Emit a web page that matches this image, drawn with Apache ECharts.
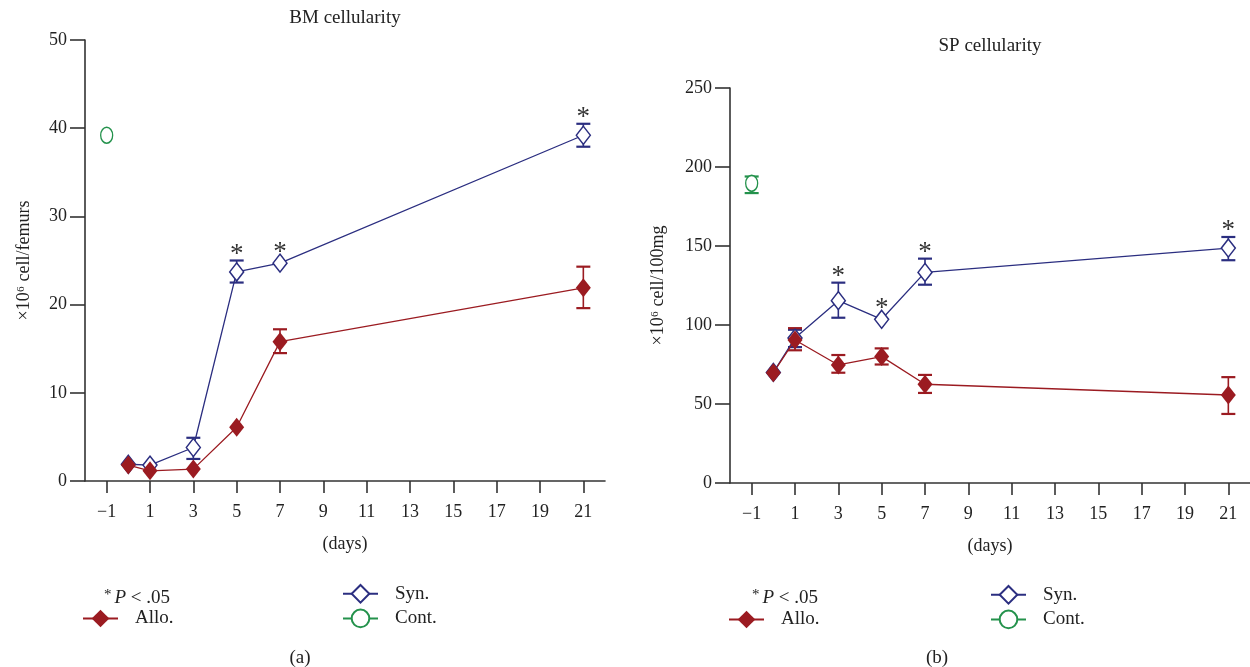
<!DOCTYPE html>
<html>
<head>
<meta charset="utf-8">
<script src="https://cdn.jsdelivr.net/npm/echarts@6/dist/echarts.min.js"></script>
<style>
  html, body { margin: 0; padding: 0; background: #fff; }
  #chart { width: 1250px; height: 667px; }
</style>
</head>
<body>
<div id="chart"></div>
<script>
  // days after transplant
  var days = [0, 1, 3, 5, 7, 21];
  var xTicks = [-1, 1, 3, 5, 7, 9, 11, 13, 15, 17, 19, 21];
  var contDay = -1;

  // BM cellularity (x10^6 cell/femurs)
  var bmAllo = [1.8, 1.15, 1.35, 6.1, 15.8, 21.9];
  var bmAlloLo = [null, null, null, null, 14.5, 19.6];
  var bmAlloHi = [null, null, null, null, 17.2, 24.3];
  var bmSyn = [1.9, 1.8, 3.8, 23.7, 24.7, 39.2];
  var bmSynLo = [null, null, 2.5, 22.5, null, 37.9];
  var bmSynHi = [null, null, 4.9, 25.0, null, 40.5];
  var bmCont = 39.2;
  var bmStars = [5, 7, 21];

  // SP cellularity (x10^6 cell/100mg)
  var spAllo = [69.8, 90.5, 74.7, 80.0, 62.5, 55.7];
  var spAlloLo = [null, 84, 69.8, 75.0, 57.0, 43.7];
  var spAlloHi = [null, 98, 81.0, 85.2, 68.4, 67.0];
  var spSyn = [70, 91.7, 115.4, 103.6, 133.3, 148.7];
  var spSynLo = [null, 86, 104.6, null, 125.5, 141.0];
  var spSynHi = [null, 97, 126.8, null, 142.0, 155.7];
  var spCont = 189.7;
  var spContLo = 183.5;
  var spContHi = 194.0;
  var spStars = [3, 5, 7, 21];

  var RED = '#9b1b21';
  var BLUE = '#2b2e80';
  var GREEN = '#24924c';
  var AXIS = '#333';
  var FONT = '"Liberation Serif", "DejaVu Serif", serif';
  var ELLIPSE = 'path://M0,8 A6,8 0 1,1 12,8 A6,8 0 1,1 0,8 Z';

  function pts(ys) {
    return days.map(function (d, i) { return [d, ys[i]]; });
  }
  function errs(lo, hi) {
    var out = [];
    days.forEach(function (d, i) {
      if (lo[i] != null) out.push([d, lo[i], hi[i]]);
    });
    return out;
  }
  function stars(list, ys, hi) {
    return list.map(function (d) {
      var i = days.indexOf(d);
      return [d, ys[i], hi[i] == null ? ys[i] : hi[i]];
    });
  }

  function errorBar(color) {
    return function (params, api) {
      var x = api.value(0);
      var lo = api.coord([x, api.value(1)]);
      var hi = api.coord([x, api.value(2)]);
      var w = 7;
      return {
        type: 'group',
        children: [
          { type: 'line', shape: { x1: lo[0], y1: lo[1], x2: hi[0], y2: hi[1] }, style: { stroke: color, lineWidth: 1.6 } },
          { type: 'line', shape: { x1: lo[0] - w, y1: lo[1], x2: lo[0] + w, y2: lo[1] }, style: { stroke: color, lineWidth: 2.2 } },
          { type: 'line', shape: { x1: hi[0] - w, y1: hi[1], x2: hi[0] + w, y2: hi[1] }, style: { stroke: color, lineWidth: 2.2 } }
        ]
      };
    };
  }

  function starItem(params, api) {
    var x = api.value(0);
    var p = api.coord([x, api.value(1)]);
    var top = api.coord([x, api.value(2)]);
    var y = Math.min(top[1] - 13, p[1] - 17);
    return {
      type: 'text',
      x: p[0],
      y: y + 7,
      style: { text: '*', fontSize: 27, fontFamily: FONT, fill: '#333', align: 'center', verticalAlign: 'middle' }
    };
  }

  function xAxisOf(gi) {
    return {
      type: 'value', gridIndex: gi, min: -2, max: 22,
      name: '(days)', nameLocation: 'middle', nameGap: 54,
      nameTextStyle: { fontFamily: FONT, fontSize: 18, color: '#222' },
      axisLine: { lineStyle: { color: AXIS, width: 1.6 } },
      axisTick: { customValues: xTicks, length: 12, lineStyle: { color: AXIS, width: 1.6 } },
      axisLabel: {
        customValues: xTicks, margin: 22, fontFamily: FONT, fontSize: 18, color: '#222',
        formatter: function (v) { return v < 0 ? '\u2212' + Math.abs(v) : String(v); }
      },
      splitLine: { show: false }
    };
  }
  function yAxisOf(gi, max, step, name, gap) {
    return {
      type: 'value', gridIndex: gi, min: 0, max: max, interval: step,
      name: name, nameLocation: 'middle', nameGap: gap,
      nameTextStyle: { fontFamily: FONT, fontSize: 18, color: '#222' },
      axisLine: { show: true, onZero: false, lineStyle: { color: AXIS, width: 1.6 } },
      axisTick: { show: true, length: 15, lineStyle: { color: AXIS, width: 1.6 } },
      axisLabel: { margin: 18, fontFamily: FONT, fontSize: 18, color: '#222' },
      splitLine: { show: false }
    };
  }

  function lineSeries(name, gi, data, color, open, symbol, size) {
    return {
      name: name, type: 'line', xAxisIndex: gi, yAxisIndex: gi,
      data: data, symbol: symbol, symbolSize: size, showAllSymbol: true,
      lineStyle: { color: color, width: 1.3 },
      itemStyle: open ? { color: '#fff', borderColor: color, borderWidth: 1.5 } : { color: color },
      emphasis: { disabled: true }, z: 3
    };
  }
  function errSeries(gi, data, color) {
    return {
      type: 'custom', xAxisIndex: gi, yAxisIndex: gi, data: data,
      renderItem: errorBar(color), silent: true, z: 2
    };
  }
  function starSeries(gi, data) {
    return {
      type: 'custom', xAxisIndex: gi, yAxisIndex: gi, data: data,
      renderItem: starItem, silent: true, z: 4
    };
  }

  var chart = echarts.init(document.getElementById('chart'), null, { renderer: 'canvas' });

  var legendText = { fontFamily: FONT, fontSize: 19, color: '#222', padding: [0, 0, 0, 12] };
  function legendOf(left, top, names) {
    return {
      left: left, top: top, orient: 'vertical', data: names, itemWidth: 35, itemHeight: 22,
      itemGap: 5, textStyle: legendText, selectedMode: false
    };
  }

  var pNote = {
    text: '{s|*}{i|P}{n| < .05}', verticalAlign: 'middle', fill: '#222',
    rich: {
      s: { fontFamily: FONT, fontSize: 15, fill: '#222', padding: [0, 3, 6, 0] },
      i: { fontFamily: FONT, fontSize: 19, fontStyle: 'italic', fill: '#222' },
      n: { fontFamily: FONT, fontSize: 19, fill: '#222' }
    }
  };

  chart.setOption({
    animation: false,
    grid: [
      { left: 85, top: 40, width: 520, height: 441 },
      { left: 730, top: 88, width: 520, height: 395 }
    ],
    xAxis: [xAxisOf(0), xAxisOf(1)],
    yAxis: [
      yAxisOf(0, 50, 10, '×10⁶ cell/femurs', 52),
      yAxisOf(1, 250, 50, '×10⁶ cell/100mg', 63)
    ],
    legend: [
      legendOf(77, 604, ['Allo.']),
      legendOf(337, 579, ['Syn.', 'Cont.']),
      legendOf(723, 605, ['Allo.']),
      legendOf(985, 580, ['Syn.', 'Cont.'])
    ],
    graphic: [
      { type: 'text', x: 345, y: 18, style: { text: 'BM cellularity', fontFamily: FONT, fontSize: 19, fill: '#222', align: 'center', verticalAlign: 'middle' } },
      { type: 'text', x: 990, y: 46, style: { text: 'SP cellularity', fontFamily: FONT, fontSize: 19, fill: '#222', align: 'center', verticalAlign: 'middle' } },
      { type: 'text', x: 300, y: 658, style: { text: '(a)', fontFamily: FONT, fontSize: 19, fill: '#222', align: 'center', verticalAlign: 'middle' } },
      { type: 'text', x: 937, y: 658, style: { text: '(b)', fontFamily: FONT, fontSize: 19, fill: '#222', align: 'center', verticalAlign: 'middle' } },
      { type: 'text', x: 104, y: 598, style: pNote },
      { type: 'text', x: 752, y: 598, style: pNote }
    ],
    series: [
      // panel (a)
      errSeries(0, errs(bmSynLo, bmSynHi), BLUE),
      lineSeries('Syn.', 0, pts(bmSyn), BLUE, true, 'diamond', [14, 18]),
      errSeries(0, errs(bmAlloLo, bmAlloHi), RED),
      lineSeries('Allo.', 0, pts(bmAllo), RED, false, 'diamond', [15, 19]),
      lineSeries('Cont.', 0, [[contDay, bmCont]], GREEN, true, ELLIPSE, [12, 16]),
      starSeries(0, stars(bmStars, bmSyn, bmSynHi)),
      // panel (b)
      errSeries(1, errs(spSynLo, spSynHi), BLUE),
      lineSeries('Syn.', 1, pts(spSyn), BLUE, true, 'diamond', [14, 18]),
      errSeries(1, errs(spAlloLo, spAlloHi), RED),
      lineSeries('Allo.', 1, pts(spAllo), RED, false, 'diamond', [15, 19]),
      errSeries(1, [[contDay, spContLo, spContHi]], GREEN),
      lineSeries('Cont.', 1, [[contDay, spCont]], GREEN, true, ELLIPSE, [12, 16]),
      starSeries(1, stars(spStars, spSyn, spSynHi))
    ]
  });
</script>
</body>
</html>
